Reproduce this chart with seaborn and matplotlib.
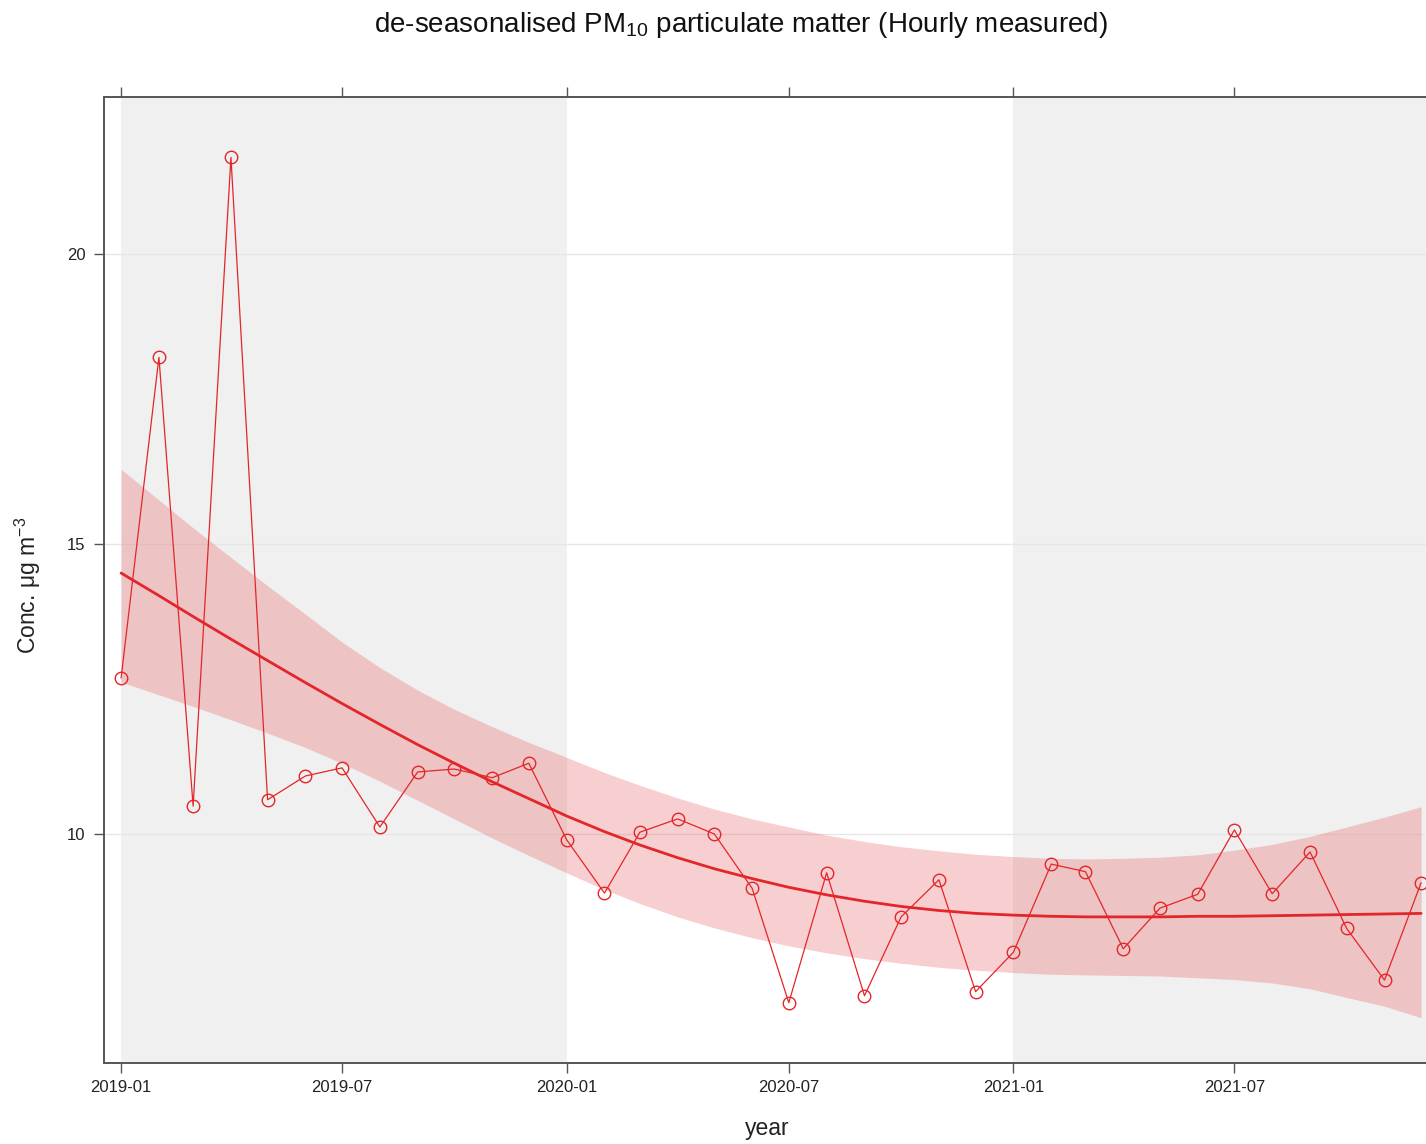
import numpy as np
import pandas as pd
import matplotlib
matplotlib.use("Agg")
import matplotlib.pyplot as plt
import matplotlib.dates as mdates
import seaborn as sns

# ---------------- data ----------------
start_month = "2019-01-01"
n_months = 36
conc = [12.69, 18.22, 10.48, 21.67, 10.59, 11.00, 11.14, 10.12, 11.07, 11.12, 10.97, 11.22,
        9.90, 8.98, 10.03, 10.26, 10.00, 9.06, 7.09, 9.33, 7.21, 8.57, 9.21, 7.28,
        7.96, 9.48, 9.35, 8.02, 8.72, 8.96, 10.07, 8.97, 9.69, 8.37, 7.48, 9.16]
smooth = [14.50, 14.11, 13.75, 13.36, 12.99, 12.61, 12.25, 11.89, 11.54, 11.22, 10.90, 10.61,
          10.31, 10.04, 9.81, 9.59, 9.40, 9.23, 9.08, 8.95, 8.84, 8.75, 8.68, 8.63,
          8.60, 8.58, 8.57, 8.57, 8.57, 8.58, 8.58, 8.59, 8.60, 8.61, 8.62, 8.63]
upper = [16.29, 15.76, 15.28, 14.77, 14.28, 13.79, 13.31, 12.87, 12.48, 12.15, 11.85, 11.58,
         11.32, 11.06, 10.84, 10.62, 10.43, 10.26, 10.12, 9.98, 9.87, 9.78, 9.71, 9.65,
         9.61, 9.58, 9.57, 9.58, 9.60, 9.64, 9.72, 9.82, 9.96, 10.12, 10.29, 10.47]
lower = [12.62, 12.40, 12.20, 11.97, 11.74, 11.49, 11.22, 10.91, 10.58, 10.26, 9.93, 9.63,
         9.33, 9.04, 8.80, 8.57, 8.38, 8.21, 8.07, 7.95, 7.85, 7.77, 7.70, 7.65,
         7.61, 7.58, 7.57, 7.56, 7.55, 7.52, 7.49, 7.43, 7.33, 7.18, 7.03, 6.83]
shaded_years = ["2019", "2021"]
y_ticks = [10, 15, 20]

title_txt = r"de-seasonalised PM$_{\mathregular{10}}$ particulate matter (Hourly measured)"
ylabel_txt = r"Conc. $\mathregular{\mu}$g m$^{\mathregular{-3}}$"
xlabel_txt = "year"

dates = pd.date_range(start_month, periods=n_months, freq="MS")
df = pd.DataFrame({"date": dates, "conc": conc, "smooth": smooth,
                   "upper": upper, "lower": lower})

# ---------------- style ----------------
sns.set_theme(style="white")
plt.rcParams["font.family"] = ["Liberation Sans", "DejaVu Sans"]
plt.rcParams["mathtext.fontset"] = "custom"
plt.rcParams["mathtext.rm"] = "Liberation Sans"
plt.rcParams["mathtext.it"] = "Liberation Sans"

RED = "#E3262A"
SPINE = "#555555"

W, H = 1426, 1144
fig = plt.figure(figsize=(W / 100, H / 100), dpi=100)
ax_l, ax_r, ax_t, ax_b = 104, 1437, 97, 1063
ax = fig.add_axes([ax_l / W, 1 - ax_b / H, (ax_r - ax_l) / W, (ax_b - ax_t) / H])

xmin = pd.Timestamp("2018-12-18")
xmax = pd.Timestamp("2021-12-14")

# year shading
for yr in shaded_years:
    a = pd.Timestamp(f"{yr}-01-01")
    b = pd.Timestamp(f"{int(yr) + 1}-01-01")
    ax.axvspan(a, b, color="#F0F0F0", lw=0, zorder=0)

for yv in y_ticks:
    ax.axhline(yv, color="#E6E6E6", lw=1.0, zorder=0.5)

# confidence band
ax.fill_between(df["date"], df["lower"], df["upper"], color=RED, alpha=0.22,
                lw=0, zorder=1)

# smooth trend
sns.lineplot(data=df, x="date", y="smooth", ax=ax, color=RED, lw=2.0, zorder=3)

# monthly values
sns.lineplot(data=df, x="date", y="conc", ax=ax, color=RED, lw=0.9,
             marker="o", markersize=9, markerfacecolor="none",
             markeredgecolor=RED, markeredgewidth=1.0, zorder=4)

ax.set_xlim(xmin, xmax)
ax.set_ylim(6.05, 22.71)
ax.set_yticks(y_ticks)
ax.xaxis.set_major_locator(mdates.MonthLocator(bymonth=[1, 7]))
ax.xaxis.set_major_formatter(mdates.DateFormatter("%Y-%m"))

for side in ["left", "bottom", "top"]:
    ax.spines[side].set_visible(True)
    ax.spines[side].set_color(SPINE)
    ax.spines[side].set_linewidth(1.4)
ax.spines["right"].set_visible(False)

ax.tick_params(axis="x", which="major", direction="out", length=7.5, width=1.0,
               color=SPINE, top=True, bottom=True, labeltop=False,
               labelsize=12, pad=5, labelcolor="#222222")
ax.tick_params(axis="y", which="major", direction="out", length=7.5, width=1.0,
               color=SPINE, left=True, right=False, labelsize=12, pad=6,
               labelcolor="#222222")

ax.set_xlabel("")
ax.set_ylabel("")
fig.text(741 / W, 1 - 25 / H, title_txt, ha="center", va="center",
         fontsize=20, color="#111111")
fig.text(767 / W, 1 - 1128 / H, xlabel_txt, ha="center", va="center",
         fontsize=16.5, color="#222222")
fig.text(28 / W, 1 - 585 / H, ylabel_txt, ha="center", va="center",
         rotation=90, fontsize=16.5, color="#222222")

fig.savefig("out.png", dpi=100)
